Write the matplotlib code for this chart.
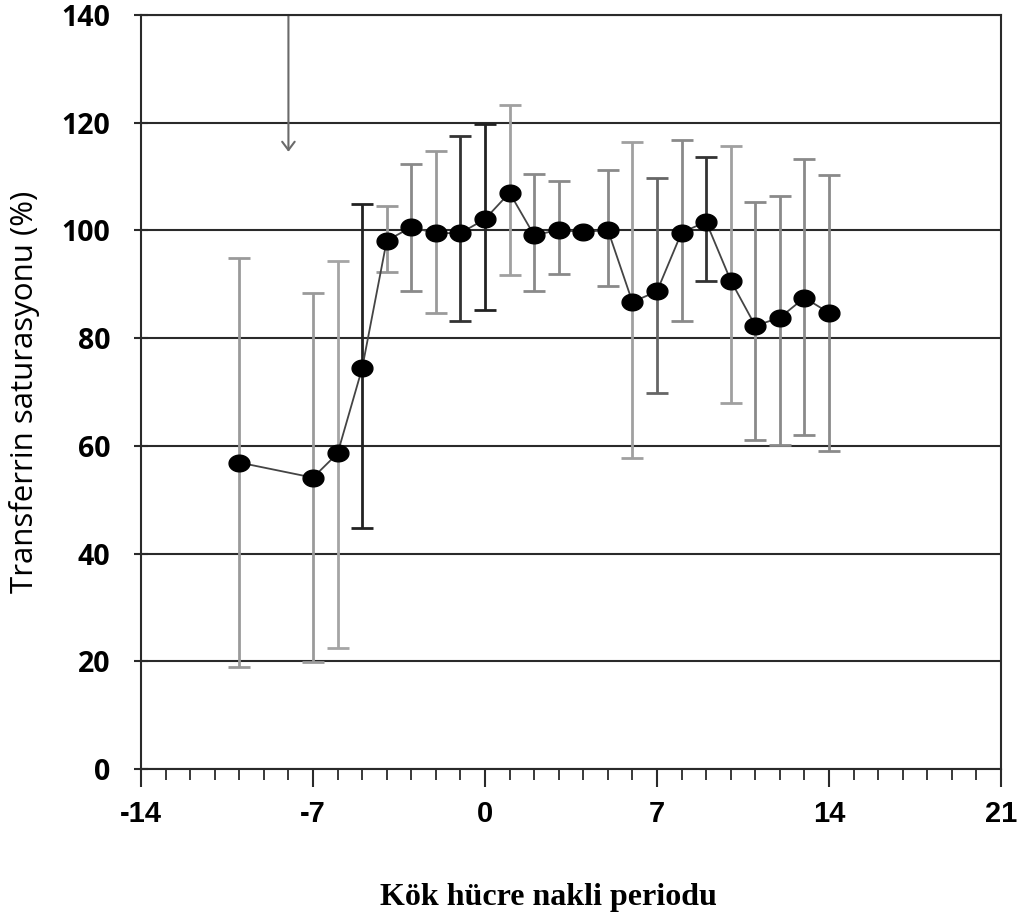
#Transferrin saturation around stem cell transplant - error bar chart
import numpy as np
import matplotlib.pyplot as plt
from matplotlib.path import Path
from matplotlib.ticker import MultipleLocator

plt.rcParams['axes.unicode_minus'] = False

days = [-10, -7, -6, -5, -4, -3, -2, -1, 0, 1, 2, 3, 4, 5, 6, 7, 8, 9, 10, 11, 12, 13, 14]
mean = [56.9, 54.1, 58.6, 74.4, 98.1, 100.6, 99.5, 99.5, 102.1, 107.0, 99.1, 100.1,
        99.7, 100.1, 86.7, 88.7, 99.6, 101.6, 90.7, 82.3, 83.8, 87.5, 84.7]
upper = [94.9, 88.4, 94.3, 104.9, 104.5, 112.3, 114.7, 117.5, 119.8, 123.3, 110.5, 109.2,
         np.nan, 111.2, 116.4, 109.7, 116.8, 113.6, 115.6, 105.2, 106.4, 113.3, 110.2]
lower = [18.9, 19.8, 22.4, 44.8, 92.3, 88.7, 84.7, 83.1, 85.2, 91.7, 88.7, 92.0,
         np.nan, 89.6, 57.7, 69.9, 83.2, 90.7, 67.9, 61.0, 60.1, 62.1, 59.0]
bar_col = ['#9a9a9a', '#9a9a9a', '#a5a5a5', '#222222', '#9a9a9a', '#8a8a8a', '#9a9a9a',
           '#333333', '#222222', '#a0a0a0', '#8a8a8a', '#8a8a8a', '#9a9a9a', '#8a8a8a',
           '#a0a0a0', '#666666', '#8a8a8a', '#333333', '#a0a0a0', '#8a8a8a', '#8a8a8a',
           '#8a8a8a', '#8a8a8a']

x_ticks = [-14, -7, 0, 7, 14, 21]
y_ticks = [0, 20, 40, 60, 80, 100, 120, 140]
arrow_day = -8
arrow_tip = 114.6

fig = plt.figure(figsize=(10.25, 9.23), dpi=100)
ax = fig.add_axes([141/1025, 1-769/923, 860/1025, 754/923])

# horizontal grid lines
for v in y_ticks:
    ax.axhline(v, color='#2a2a2a', lw=1.5, zorder=1)

# error bars (each with own grey/black shade)
for d, m, lo, hi, c in zip(days, mean, lower, upper, bar_col):
    if np.isnan(hi):
        continue
    ax.errorbar([d], [m], yerr=[[m-lo], [hi-m]], fmt='none', ecolor=c,
                elinewidth=2, capsize=8, capthick=2, zorder=2)

# slightly flattened round marker
t = np.linspace(0, 2*np.pi, 60)
ell = Path(np.c_[np.cos(t), 0.8*np.sin(t)])
ax.plot(days, mean, color='#444444', lw=1.3, zorder=3)
ax.plot(days, mean, ls='none', marker=ell, ms=15, color='black', zorder=4)

ax.annotate('', xy=(arrow_day, arrow_tip), xytext=(arrow_day, 140),
            arrowprops=dict(arrowstyle='->,head_length=0.6,head_width=0.45',
                            color='#6a6a6a', lw=1.5, shrinkA=0, shrinkB=0), zorder=2)

ax.set_xlim(-14, 21)
ax.set_ylim(0, 140)
ax.set_xticks(x_ticks)
ax.set_yticks(y_ticks)
ax.xaxis.set_minor_locator(MultipleLocator(1))
for s in ax.spines.values():
    s.set_color('#2a2a2a')
    s.set_linewidth(1.5)

ax.tick_params(axis='x', which='major', direction='out', length=13, width=1.5,
               color='#2a2a2a', pad=9)
ax.tick_params(axis='x', which='minor', direction='out', length=8, width=1.3,
               color='#2a2a2a')
ax.tick_params(axis='y', which='major', direction='inout', length=10, width=1.5,
               color='#2a2a2a', pad=17)
for lab in ax.get_xticklabels():
    lab.set_family(['Liberation Sans', 'DejaVu Sans'])
    lab.set_fontweight('bold')
    lab.set_fontsize(21)
for lab in ax.get_yticklabels():
    lab.set_family(['Open Sans', 'DejaVu Sans'])
    lab.set_fontweight('bold')
    lab.set_fontsize(20.5)

fig.text(25/1025, 1-392/923, 'Transferrin saturasyonu (%)', rotation=90,
         ha='center', va='center', fontsize=22.5, family=['Open Sans', 'DejaVu Sans'])
fig.text(548/1025, 1-898/923, 'Kök hücre nakli periodu', ha='center', va='center',
         fontsize=23, fontweight='bold', family=['Liberation Serif', 'DejaVu Serif'])

plt.savefig('out.png', dpi=100)
